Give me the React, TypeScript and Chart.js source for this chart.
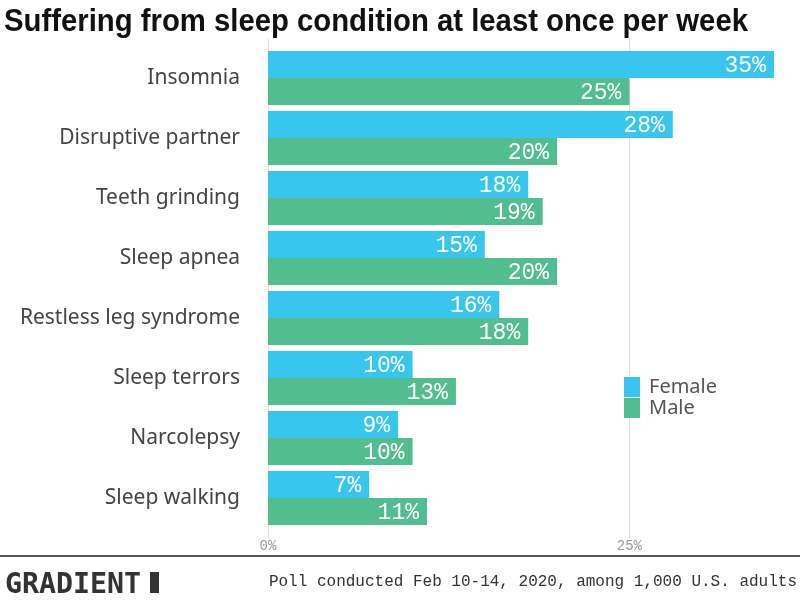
import React, { useEffect, useRef } from "react";
import { Chart, registerables } from "chart.js";
Chart.register(...registerables);

const categories = [
  "Insomnia",
  "Disruptive partner",
  "Teeth grinding",
  "Sleep apnea",
  "Restless leg syndrome",
  "Sleep terrors",
  "Narcolepsy",
  "Sleep walking",
];
const femaleValues = [35, 28, 18, 15, 16, 10, 9, 7];
const maleValues = [25, 20, 19, 20, 18, 13, 10, 11];
const seriesNames = ["Female", "Male"];
const xTicks = [0, 25];
const titleText = "Suffering from sleep condition at least once per week";
const noteText = "Poll conducted Feb 10-14, 2020, among 1,000 U.S. adults";
const brandText = "GRADIENT";

const FEMALE_COLOR = "#38c6ef";
const MALE_COLOR = "#52bd8f";
const MONO = '"DejaVu Sans Mono", "Liberation Mono", monospace';
const LMONO = '"Liberation Mono", "DejaVu Sans Mono", monospace';
const SANS = '"Noto Sans", "Open Sans", sans-serif';

const gridPlugin = {
  id: "customGrid",
  beforeDatasetsDraw(chart: any) {
    const { ctx, scales } = chart;
    const xs = scales.x;
    ctx.save();
    ctx.strokeStyle = "#e2e2e2";
    ctx.lineWidth = 1;
    xTicks.forEach((v) => {
      const x = Math.round(xs.getPixelForValue(v)) + 0.5;
      ctx.beginPath();
      ctx.moveTo(x, 38);
      ctx.lineTo(x, 538);
      ctx.stroke();
    });
    ctx.restore();
  },
};

const valueLabelPlugin = {
  id: "valueLabels",
  afterDatasetsDraw(chart: any) {
    const { ctx } = chart;
    ctx.save();
    ctx.fillStyle = "#ffffff";
    ctx.font = `23px ${LMONO}`;
    ctx.textAlign = "right";
    ctx.textBaseline = "middle";
    chart.data.datasets.forEach((ds: any, i: number) => {
      const meta = chart.getDatasetMeta(i);
      meta.data.forEach((bar: any, j: number) => {
        ctx.fillText(`${ds.data[j]}%`, bar.x - 8, bar.y + 1);
      });
    });
    ctx.restore();
  },
};

const decorPlugin = {
  id: "decor",
  afterDraw(chart: any) {
    const { ctx } = chart;
    ctx.save();
    // title
    ctx.fillStyle = "#111111";
    ctx.font = `bold 32px "Liberation Sans Narrow", "Liberation Sans", sans-serif`;
    ctx.textAlign = "left";
    ctx.textBaseline = "alphabetic";
    const w = ctx.measureText(titleText).width;
    ctx.save();
    ctx.translate(4, 31);
    ctx.scale(744 / w, 1);
    ctx.fillText(titleText, 0, 0);
    ctx.restore();

    // legend
    const ds = chart.data.datasets;
    const legendX = 624;
    const legendY = 377;
    ds.forEach((d: any, i: number) => {
      const y = legendY + i * 21;
      ctx.fillStyle = d.backgroundColor;
      ctx.fillRect(legendX, y, 16, 20);
      ctx.fillStyle = "#555555";
      ctx.font = `20px ${SANS}`;
      ctx.textBaseline = "middle";
      ctx.fillText(d.label, legendX + 25, y + 10);
    });

    // footer separator
    ctx.strokeStyle = "#555555";
    ctx.lineWidth = 2;
    ctx.beginPath();
    ctx.moveTo(0, 556);
    ctx.lineTo(800, 556);
    ctx.stroke();

    // brand
    ctx.fillStyle = "#333333";
    ctx.font = `bold 28px ${MONO}`;
    ctx.textBaseline = "alphabetic";
    const bw = ctx.measureText(brandText).width;
    ctx.save();
    ctx.translate(5, 593);
    ctx.scale(136 / bw, 1);
    ctx.fillText(brandText, 0, 0);
    ctx.restore();
    ctx.fillRect(150, 572, 9, 21);

    // note
    ctx.fillStyle = "#333333";
    ctx.font = `16px ${LMONO}`;
    ctx.textAlign = "right";
    ctx.textBaseline = "middle";
    ctx.fillText(noteText, 797, 582);
    ctx.restore();
  },
};

export default function App() {
  const ref = useRef<HTMLCanvasElement>(null);
  useEffect(() => {
    const canvas = ref.current;
    if (!canvas) return;
    const chart = new Chart(canvas, {
      type: "bar",
      data: {
        labels: categories,
        datasets: [
          {
            label: seriesNames[0],
            data: femaleValues,
            backgroundColor: FEMALE_COLOR,
            categoryPercentage: 0.9,
            barPercentage: 1.0,
          },
          {
            label: seriesNames[1],
            data: maleValues,
            backgroundColor: MALE_COLOR,
            categoryPercentage: 0.9,
            barPercentage: 1.0,
          },
        ],
      },
      options: {
        indexAxis: "y",
        animation: false,
        responsive: false,
        maintainAspectRatio: false,
        layout: { padding: { top: 48, bottom: 42, left: 0, right: 0 } },
        plugins: {
          legend: { display: false },
          title: { display: false },
          tooltip: { enabled: false },
        },
        scales: {
          x: {
            type: "linear",
            min: 0,
            max: 36.8,
            grid: { display: false, drawTicks: false },
            border: { display: false },
            ticks: {
              stepSize: 25,
              includeBounds: false,
              padding: 10,
              color: "#9a9a9a",
              font: { family: LMONO, size: 14 },
              callback: (v: any) => (xTicks.includes(Number(v)) ? `${v}%` : ""),
            },
            afterFit: (s: any) => {
              s.height = 30;
            },
          },
          y: {
            grid: { display: false, drawTicks: false },
            border: { display: false },
            ticks: {
              padding: 28,
              color: "#444444",
              font: { family: SANS, size: 21 },
            },
            afterFit: (s: any) => {
              s.width = 268;
            },
          },
        },
      },
      plugins: [gridPlugin, valueLabelPlugin, decorPlugin],
    });
    return () => chart.destroy();
  }, []);
  return (
    <div style={{ position: "fixed", left: 0, top: 0, width: 800, height: 600, background: "#fff" }}>
      <canvas ref={ref} width={800} height={600} style={{ width: 800, height: 600 }} />
    </div>
  );
}
